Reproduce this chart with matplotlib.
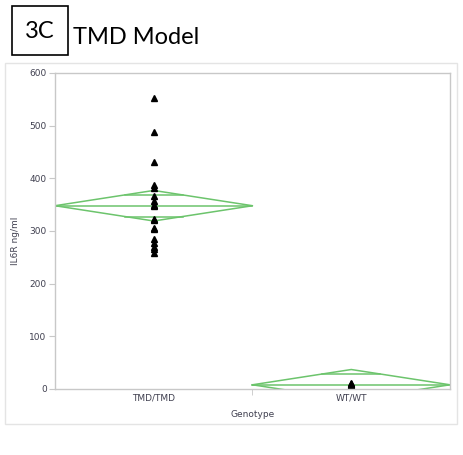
import matplotlib
matplotlib.use("Agg")
import matplotlib.pyplot as plt
from matplotlib.patches import Rectangle
import numpy as np

# data
groups = ["TMD/TMD", "WT/WT"]
tmd_values = [552, 488, 431, 387, 382, 366, 357, 350, 347,
              322, 320, 306, 303, 284, 278, 270, 265, 258]
wt_values = [5, 7, 8, 9, 10, 11]
group_means = [348, 8]
group_ci = [29, 29]   # half width of the 95% CI (pooled)

green = "#6cc46c"
grid_gray = "#c8c8c8"
label_col = "#404050"

fig = plt.figure(figsize=(4.64, 4.55), dpi=100)

# outer report frame
fig.patches.append(Rectangle((0.011, 0.068), 0.974, 0.794, transform=fig.transFigure,
                             fill=False, edgecolor="#e4e4e4", lw=1.0))

# title box
fig.patches.append(Rectangle((12 / 464, 1 - 55 / 455), 56 / 464, 49 / 455,
                             transform=fig.transFigure, fill=False,
                             edgecolor="black", lw=1.2))
fig.text(40 / 464, 1 - 31 / 455, "3C", fontsize=17, family="Lato",
         ha="center", va="center")
fig.text(73 / 464, 1 - 37 / 455, "TMD Model", fontsize=17, family="Lato",
         ha="left", va="center")

ax = fig.add_axes([55 / 464, 1 - 389 / 455, 395 / 464, 316 / 455])

all_vals = [tmd_values, wt_values]
for i, (m, ci) in enumerate(zip(group_means, group_ci)):
    x0, x1, xc = i, i + 1, i + 0.5
    # means diamond
    ax.plot([x0, xc, x1, xc, x0], [m, m + ci, m, m - ci, m], color=green, lw=1.1)
    ax.plot([x0, x1], [m, m], color=green, lw=1.1)
    # overlap marks
    o = ci / np.sqrt(2)
    hw = 0.5 * (1 - 1 / np.sqrt(2))
    for s in (1, -1):
        ax.plot([xc - hw, xc + hw], [m + s * o, m + s * o], color=green, lw=1.1)
    ax.plot([xc] * len(all_vals[i]), all_vals[i], linestyle="none", marker="^",
            markersize=5, color="black")

ax.set_xlim(0, 2)
ax.set_ylim(0, 600)
ax.set_yticks(range(0, 601, 100))
ax.set_xticks([0.5, 1.5])
ax.set_xticklabels(groups)
ax.set_xticks([1], minor=True)
ax.tick_params(axis="x", which="major", length=0, labelsize=6.5,
               labelcolor=label_col, pad=3)
ax.tick_params(axis="x", which="minor", length=4, color=grid_gray)
ax.tick_params(axis="y", length=4, color=grid_gray, labelsize=6.5,
               labelcolor=label_col, pad=2)
for sp in ax.spines.values():
    sp.set_color(grid_gray)
    sp.set_linewidth(1.0)

ax.set_ylabel("IL6R ng/ml", fontsize=6.5, color=label_col)
ax.yaxis.set_label_coords(-0.089, 0.47)
ax.set_xlabel("Genotype", fontsize=6.5, color=label_col)
ax.xaxis.set_label_coords(0.5, -0.065)

fig.savefig("out.png", dpi=100)
